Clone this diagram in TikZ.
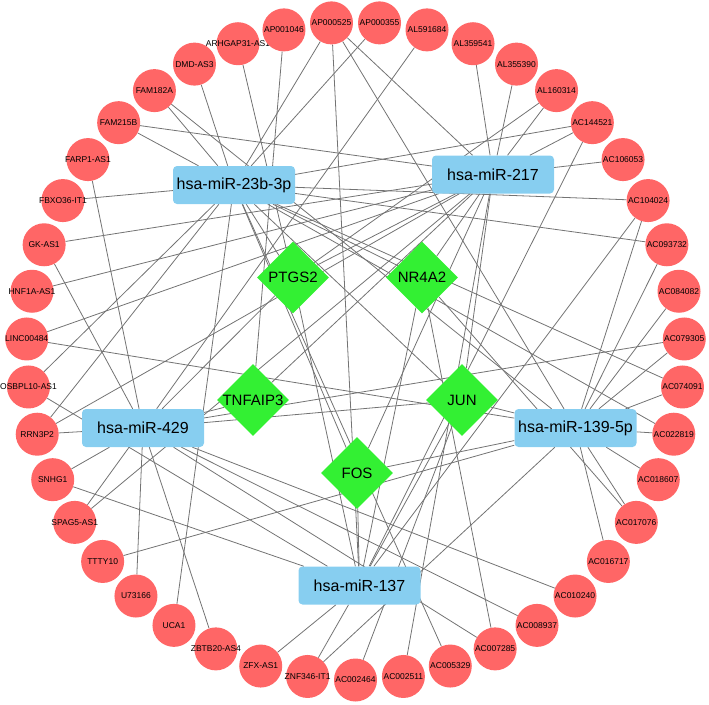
\documentclass[tikz,border=0pt]{standalone}
\usepackage{fontspec}
\setmainfont{Liberation Sans}
\usetikzlibrary{shapes.geometric,backgrounds}
\definecolor{lnc}{RGB}{255,102,102}
\definecolor{mir}{RGB}{135,206,240}
\definecolor{gene}{RGB}{51,240,51}
\definecolor{edgegray}{RGB}{115,115,115}
\begin{document}
\begin{tikzpicture}[x=1pt,y=-1pt,
  lncnode/.style={circle,fill=lnc,minimum size=43pt,inner sep=0pt},
  lnctext/.style={font=\fontsize{8.5}{9.5}\selectfont,inner sep=0pt},
  mirnode/.style={rectangle,rounded corners=4pt,fill=mir,minimum width=122pt,minimum height=38pt,inner sep=0pt,font=\fontsize{16}{18}\selectfont},
  genenode/.style={diamond,fill=gene,minimum width=72pt,minimum height=72pt,inner sep=0pt,font=\fontsize{15}{17}\selectfont},
  link/.style={draw=edgegray,line width=0.8pt}]
\useasboundingbox (0,0) rectangle (709,704);
\foreach \name [count=\k from 0] in {AP000525,AP000355,AL591684,AL359541,AL355390,AL160314,AC144521,AC106053,AC104024,AC093732,AC084082,AC079305,AC074091,AC022819,AC018607,AC017076,AC016717,AC010240,AC008937,AC007285,AC005329,AC002511,AC002464,ZNF346-IT1,ZFX-AS1,ZBTB20-AS4,UCA1,U73166,TTTY10,SPAG5-AS1,SNHG1,RRN3P2,OSBPL10-AS1,LINC00484,HNF1A-AS1,GK-AS1,FBXO36-IT1,FARP1-AS1,FAM215B,FAM182A,DMD-AS3,ARHGAP31-AS1,AP001046}{
  \pgfmathsetmacro{\ang}{-(94.186-8.372093*\k)}
  \node[lncnode] (r\k) at ([shift={(355.5,351)}]\ang:329) {};
  \node[lnctext] (t\k) at (r\k.center) {\name};
}
\node[mirnode] (m23) at (234,185) {hsa-miR-23b-3p};
\node[mirnode] (m217) at (493,174.5) {hsa-miR-217};
\node[mirnode] (m429) at (143,428) {hsa-miR-429};
\node[mirnode] (m139) at (575.5,428) {hsa-miR-139-5p};
\node[mirnode] (m137) at (359.5,585.5) {hsa-miR-137};
\node[genenode] (ptgs) at (293,277.5) {PTGS2};
\node[genenode] (nr) at (422,277.5) {NR4A2};
\node[genenode] (tnf) at (253,400) {TNFAIP3};
\node[genenode] (jun) at (462,400) {JUN};
\node[genenode] (fos) at (357,473) {FOS};
\begin{pgfonlayer}{background}
\foreach \a/\b in {r0/m23,r0/m217,r0/m139,r0/m137,r1/m23,r2/m429,r3/m217,r4/m217,
  r5/m217,r5/ptgs,r6/m23,r6/m217,r6/m137,r7/m217,r8/m23,r8/m139,r8/m137,
  r9/m23,r9/m139,r10/m139,r11/m429,r11/m139,r12/m23,r12/m139,r13/m23,r13/m139,
  r14/m139,r15/m139,r15/nr,r16/m139,r17/m429,r18/m429,r19/m429,r19/nr,r20/m23,
  r21/m217,r22/jun,r23/m137,r23/m139,r24/m137,r25/m429,r26/m23,r27/m429,r28/m139,
  r29/m429,r29/m217,r30/m429,r30/m137,r31/m429,r31/m23,r31/m217,r32/m23,r32/m137,
  r33/m139,r33/m217,r34/m217,r35/m429,r35/m217,r36/m23,r37/m429,r38/m23,r38/m217,
  r39/m23,r39/m139,r40/m23,r41/ptgs,r42/tnf,
  m23/ptgs,m23/nr,m23/jun,m23/fos,
  m217/ptgs,m217/nr,m217/jun,m217/fos,m217/tnf,
  m429/tnf,m429/jun,m429/ptgs,
  m139/jun,m139/fos,
  m137/ptgs,m137/fos,m137/jun,m137/nr}
  \draw[link] (\a) -- (\b);
\end{pgfonlayer}
\end{tikzpicture}
\end{document}
